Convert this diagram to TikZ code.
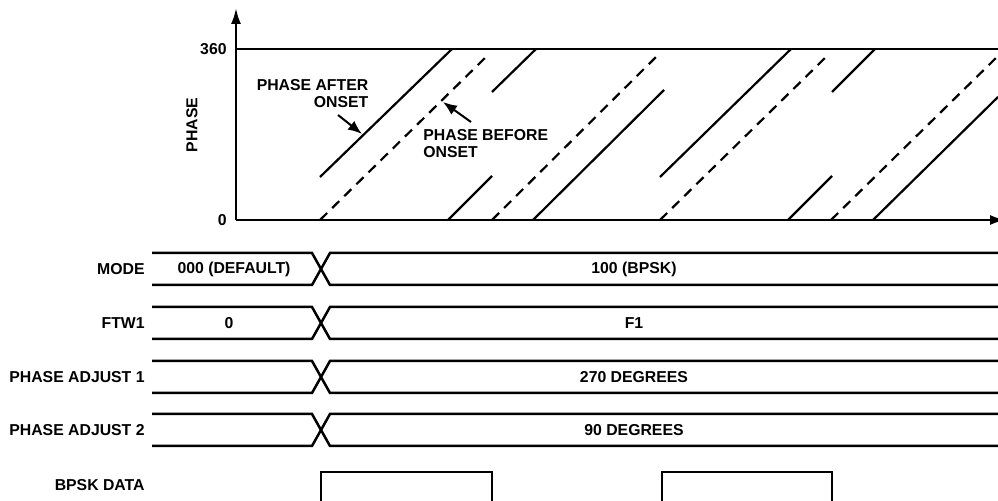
\documentclass[tikz,border=0pt]{standalone}
\usepackage{fontspec}
\setmainfont{Liberation Sans}
\usepackage{tikz}
\usetikzlibrary{arrows.meta}

\begin{document}
\begin{tikzpicture}[
    x=0.5pt, y=-0.5pt,
    lbl/.style={font=\bfseries\fontsize{7.9}{8.5}\selectfont, inner sep=0pt},
    axis/.style={line width=1.2pt},
    ramp/.style={line width=1.1pt},
    dashramp/.style={ramp, dash pattern=on 5pt off 3.5pt},
    bus/.style={line width=1.25pt, line join=miter},
    pointer/.style={line width=1pt, -{Latex[length=7pt,width=5.5pt]}},
]
    \useasboundingbox (0,0) rectangle (998,501);

    % --- Phase plot: axes ---
    \coordinate (origin) at (236,220);
    \coordinate (ytop)   at (236,8);
    \coordinate (xend)   at (1006,220);
    \draw[axis, -{Latex[length=8pt,width=5pt]}] (origin) -- (ytop);
    \draw[axis, -{Latex[length=8pt,width=5pt]}] (origin) -- (xend);
    \coordinate (full) at (236,49);
    \coordinate (fullend) at (998,49);
    \draw[line width=0.7pt] (full) -- (fullend);

    \node[lbl, anchor=east] (l360) at (227,49) {360};
    \node[lbl, anchor=east] (l0)   at (227,220) {0};
    \node[lbl, rotate=90] (phaselbl) at (192,125) {PHASE};

    % --- Phase after onset (solid) ---
    \foreach \xa/\ya/\xb/\yb in {320/177/452/49, 492/92/536/49, 448/220/492/176,
        533/220/664/90, 660/177/791/49, 832/92/875/49, 788/220/832/176, 873/220/998/97}
        \draw[ramp] (\xa,\ya) -- (\xb,\yb);

    % --- Phase before onset (dashed) ---
    \foreach \xa/\ya/\xb/\yb in {320/220/487/56, 492/220/657/56, 660/220/827/56, 831/220/998/56}
        \draw[dashramp] (\xa,\ya) -- (\xb,\yb);

    % --- Callouts ---
    \node[lbl, align=right] (afterlbl) at (312.5,93.5) {PHASE AFTER\\ONSET};
    \coordinate (aftertail) at (338,115);
    \coordinate (aftertip)  at (362,134);
    \draw[pointer] (aftertail) -- (aftertip);

    \node[lbl, align=left, anchor=west] (beforelbl) at (423,144) {PHASE BEFORE\\ONSET};
    \coordinate (beforetail) at (471,122);
    \coordinate (beforetip)  at (443,102);
    \draw[pointer] (beforetail) -- (beforetip);

    % --- Bus rows ---
    \foreach \yt/\name in {253/MODE, 307/FTW1, 361/PHASE ADJUST 1, 414/PHASE ADJUST 2} {
        \pgfmathsetmacro{\ym}{\yt+16}
        \pgfmathsetmacro{\yb}{\yt+32}
        \draw[bus] (152,\yt) -- (312,\yt) -- (321,\ym) -- (312,\yb) -- (152,\yb);
        \draw[bus] (998,\yt) -- (330,\yt) -- (321,\ym) -- (330,\yb) -- (998,\yb);
        \node[lbl, anchor=east] at (145,\ym) {\name};
    }

    \node[lbl] (modeold) at (234,269) {000 (DEFAULT)};
    \node[lbl] (modenew) at (634,269) {100 (BPSK)};
    \node[lbl] (ftwold)  at (229,323) {0};
    \node[lbl] (ftwnew)  at (634,323) {F1};
    \node[lbl] (pa1new)  at (634,377) {270 DEGREES};
    \node[lbl] (pa2new)  at (634,430) {90 DEGREES};

    % --- BPSK data ---
    \node[lbl, anchor=east] (bpsklbl) at (145,485) {BPSK DATA};
    \draw[bus] (321,504) -- (321,472) -- (492,472) -- (492,504);
    \draw[bus] (662,504) -- (662,472) -- (832,472) -- (832,504);

\end{tikzpicture}
\end{document}
